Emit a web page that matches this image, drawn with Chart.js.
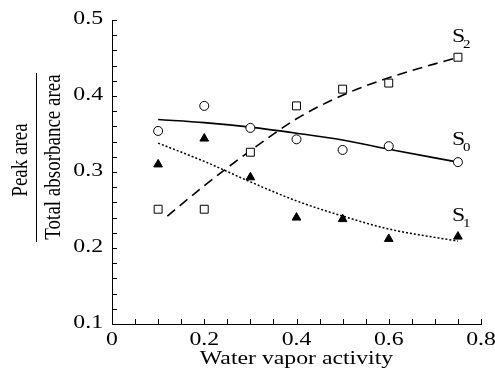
<!DOCTYPE html>
<html>
<head>
<meta charset="utf-8">
<script src="https://cdn.jsdelivr.net/npm/chart.js@4.4.1/dist/chart.umd.min.js"></script>
<style>
  html, body { margin: 0; padding: 0; background: #fff; }
  canvas { display: block; }
  .warm { font-family: "Liberation Serif"; position: absolute; left: -999px; }
</style>
</head>
<body>
<span class="warm">Water vapor activity 0.5</span>
<canvas id="areaChart" width="495" height="378"></canvas>
<script>
// ── DATA ────────────────────────────────────────────────────

const activity = [0.1, 0.2, 0.3, 0.4, 0.5, 0.6, 0.75];
const s0Values = [0.354, 0.387, 0.358, 0.343, 0.329, 0.334, 0.313];
const s1Values = [0.310, 0.344, 0.293, 0.240, 0.238, 0.212, 0.215];
const s2Values = [0.251, 0.251, 0.326, 0.387, 0.409, 0.417, 0.451];

// fitted trend curves
const s0FitX = [0.1, 0.2, 0.3, 0.4, 0.5, 0.6, 0.75];
const s0Fit  = [0.369, 0.365, 0.359, 0.351, 0.342, 0.330, 0.313];
const s1FitX = [0.1, 0.2, 0.3, 0.4, 0.5, 0.6, 0.75];
const s1Fit  = [0.338, 0.314, 0.287, 0.262, 0.242, 0.225, 0.209];
const s2FitX = [0.12, 0.2, 0.3, 0.4, 0.5, 0.6, 0.75];
const s2Fit  = [0.242, 0.282, 0.328, 0.370, 0.401, 0.424, 0.451];

const xTickLabels = ['0', '0.2', '0.4', '0.6', '0.8'];
const yTickLabels = ['0.1', '0.2', '0.3', '0.4', '0.5'];

const pts = (xs, ys) => xs.map((x, i) => ({ x: x, y: ys[i] }));


// ── TEXT HELPERS ────────────────────────────────────────────

const FONT = '"Liberation Serif"';
const SX = 1.25; // glyphs are drawn a little wide

function wideText(ctx, text, x, y, size, align, baseline, rot) {
  ctx.save();
  ctx.translate(x, y);
  ctx.scale(SX, 1);
  if (rot) ctx.rotate(rot);
  ctx.font = size + 'px ' + FONT;
  ctx.fillStyle = '#000';
  ctx.textAlign = align;
  ctx.textBaseline = baseline;
  ctx.fillText(text, 0, 0);
  ctx.restore();
}

function seriesLabel(ctx, sub, x, y) {
  wideText(ctx, 'S', x, y, 19, 'left', 'alphabetic');
  wideText(ctx, sub, x + 11, y + 6, 12, 'left', 'alphabetic');
}


// ── AXES, TICKS AND LABELS ──────────────────────────────────

const axisDecor = {
  id: 'axisDecor',
  afterDraw(chart) {
    const ctx = chart.ctx;
    const xs = chart.scales.x;
    const ys = chart.scales.y;
    const a = chart.chartArea;

    ctx.save();
    ctx.strokeStyle = '#000';
    ctx.lineWidth = 1;
    ctx.beginPath();
    // inward ticks on the x axis, every 0.05
    for (let i = 0; i <= 16; i++) {
      const px = Math.round(xs.getPixelForValue(i * 0.05)) + 0.5;
      ctx.moveTo(px, a.bottom);
      ctx.lineTo(px, a.bottom - 5);
    }
    // inward ticks on the y axis, every 0.02
    for (let i = 0; i <= 20; i++) {
      const py = Math.round(ys.getPixelForValue(0.1 + i * 0.02)) + 0.5;
      ctx.moveTo(a.left, py);
      ctx.lineTo(a.left + 5, py);
    }
    ctx.stroke();

    // fraction bar of the y title
    ctx.beginPath();
    ctx.moveTo(36.5, 73);
    ctx.lineTo(36.5, 242);
    ctx.stroke();
    ctx.restore();

    xTickLabels.forEach(t => {
      wideText(ctx, t, xs.getPixelForValue(parseFloat(t)), 345, 19, 'center', 'alphabetic');
    });
    yTickLabels.forEach(t => {
      wideText(ctx, t, 103, ys.getPixelForValue(parseFloat(t)) - 1, 19, 'right', 'middle');
    });

    wideText(ctx, 'Water vapor activity', (a.left + a.right) / 2, 364, 19, 'center', 'alphabetic');
    wideText(ctx, 'Peak area', 27, 160, 19, 'center', 'alphabetic', -Math.PI / 2);
    wideText(ctx, 'Total absorbance area', 60, 157, 19, 'center', 'alphabetic', -Math.PI / 2);

    seriesLabel(ctx, '2', 452, 42);
    seriesLabel(ctx, '0', 452, 145);
    seriesLabel(ctx, '1', 452, 221);
  }
};


// ── CHART ───────────────────────────────────────────────────

const lineStyle = {
  showLine: true,
  pointRadius: 0,
  borderColor: '#000',
  borderWidth: 1.6,
  fill: false,
  cubicInterpolationMode: 'monotone',
  order: 2,
};

function drawChart() {
  const ctx = document.getElementById('areaChart').getContext('2d');

  new Chart(ctx, {
    type: 'scatter',
    data: {
      datasets: [
        { ...lineStyle, label: 'S0 fit', data: pts(s0FitX, s0Fit) },
        { ...lineStyle, label: 'S1 fit', data: pts(s1FitX, s1Fit), borderDash: [2, 2], borderWidth: 1.5 },
        { ...lineStyle, label: 'S2 fit', data: pts(s2FitX, s2Fit), borderDash: [10, 6] },
        {
          label: 'S0', data: pts(activity, s0Values), order: 0,
          pointStyle: 'circle', pointRadius: 4.5,
          backgroundColor: '#fff', borderColor: '#000', borderWidth: 1,
        },
        {
          label: 'S1', data: pts(activity, s1Values), order: 0,
          pointStyle: 'triangle', pointRadius: 5,
          backgroundColor: '#000', borderColor: '#000', borderWidth: 1,
        },
        {
          label: 'S2', data: pts(activity, s2Values), order: 0,
          pointStyle: 'rect', pointRadius: 5.6,
          backgroundColor: '#fff', borderColor: '#000', borderWidth: 1,
        },
      ]
    },
    options: {
      responsive: false,
      animation: false,
      events: [],
      layout: { padding: { left: 112, top: 20, right: 14, bottom: 54 } },
      plugins: {
        legend: { display: false },
        tooltip: { enabled: false },
      },
      scales: {
        x: {
          type: 'linear', min: 0, max: 0.8,
          grid: { display: false, drawTicks: false },
          border: { display: true, color: '#000', width: 1 },
          ticks: { display: false },
        },
        y: {
          type: 'linear', min: 0.1, max: 0.5,
          grid: { display: false, drawTicks: false },
          border: { display: true, color: '#000', width: 1 },
          ticks: { display: false },
        }
      }
    },
    plugins: [axisDecor]
  });
}

document.fonts.load('19px "Liberation Serif"').then(drawChart, drawChart);
</script>
</body>
</html>
